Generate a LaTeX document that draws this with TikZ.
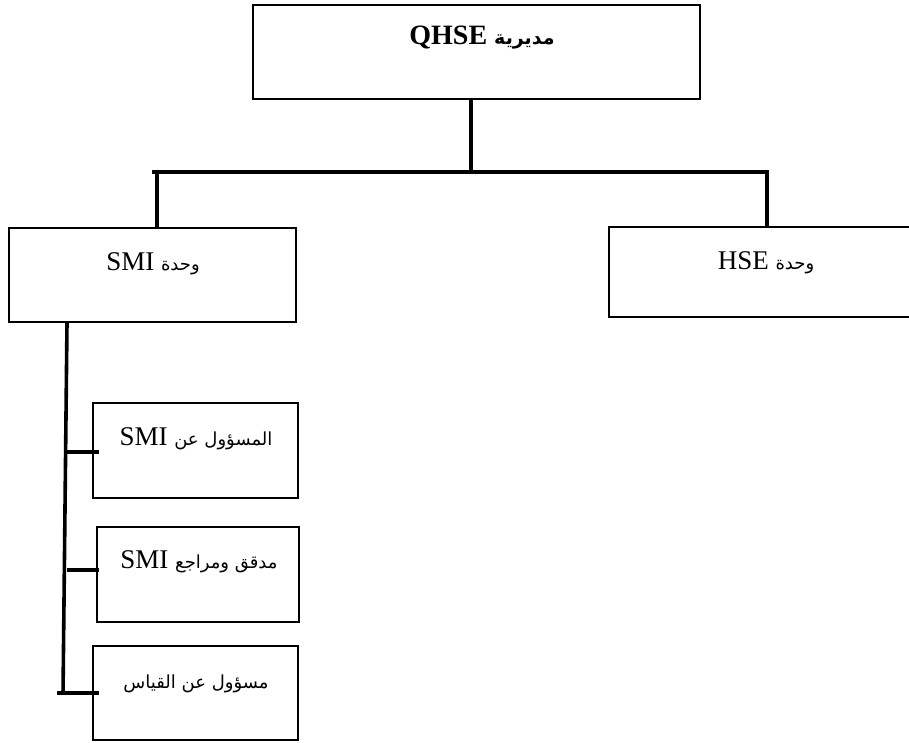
\documentclass[tikz,border=0pt]{standalone}
\usepackage{fontspec}
\setmainfont{Liberation Serif}
\newfontfamily\arabicfont[Script=Arabic]{DejaVu Sans}
\TeXXeTstate=1
\newcommand{\arw}{\arabicfont\fontsize{18}{28}\selectfont}
\newcommand{\arwb}{\arabicfont\bfseries\fontsize{19}{28}\selectfont}
\begin{document}
\begin{tikzpicture}[x=1pt,y=-1pt,
  box/.style={draw=black, line width=2.6pt, rectangle, inner sep=0pt, outer sep=0pt, fill=white},
  conn/.style={draw=black, line width=3.6pt},
  lbl/.style={inner sep=0pt, anchor=base, font=\fontsize{27}{30}\selectfont},
  tlbl/.style={inner sep=0pt, anchor=base, font=\bfseries\fontsize{28}{32}\selectfont}]
\useasboundingbox (0,0) rectangle (909,742);
% boxes
\node[box, minimum width=447pt, minimum height=94pt] (top) at (476.5,52) {};
\node[box, minimum width=287pt, minimum height=94pt] (smi) at (152.5,275) {};
\node[box, minimum width=341pt, minimum height=90pt] (hse) at (779.5,272) {};
\node[box, minimum width=205pt, minimum height=95pt] (b1) at (195.5,450.5) {};
\node[box, minimum width=202pt, minimum height=95pt] (b2) at (198,574.5) {};
\node[box, minimum width=205pt, minimum height=94pt] (b3) at (195.5,693) {};
% texts
\node[tlbl] (ttop) at (482,44) {QHSE {\arwb\beginR مديرية\endR}};
\node[lbl] (tsmi) at (153,270) {SMI {\arw\beginR وحدة\endR}};
\node[lbl] (thse) at (766,269) {HSE {\arw\beginR وحدة\endR}};
\node[lbl] (tb1) at (196,445) {SMI {\arw\beginR المسؤول عن\endR}};
\node[lbl] (tb2) at (199,568) {SMI {\arw\beginR مدقق ومراجع\endR}};
\node[lbl] (tb3) at (196,688) {{\arw\beginR مسؤول عن القياس\endR}};
% connectors
\coordinate (jt) at (471,172);
\coordinate (barL) at (152,172);
\coordinate (barR) at (768.8,172);
\coordinate (dL) at (157,172);
\coordinate (dR) at (767,172);
\draw[conn] (top.south -| jt) -- (jt);
\draw[conn] (barL) -- (barR);
\draw[conn] (dL) -- (smi.north -| dL);
\draw[conn] (dR) -- (hse.north -| dR);
\coordinate (spT) at (67,323);
\coordinate (spB) at (63,694.8);
\draw[conn] (spT) -- (spB);
\coordinate (s1) at (65.7,452);
\coordinate (s2) at (66.6,570);
\coordinate (s3) at (57,693);
\draw[conn] (s1) -- ([xshift=6pt]b1.west |- s1);
\draw[conn] (s2) -- ([xshift=2pt]b2.west |- s2);
\draw[conn] (s3) -- ([xshift=6pt]b3.west |- s3);
\end{tikzpicture}
\end{document}
